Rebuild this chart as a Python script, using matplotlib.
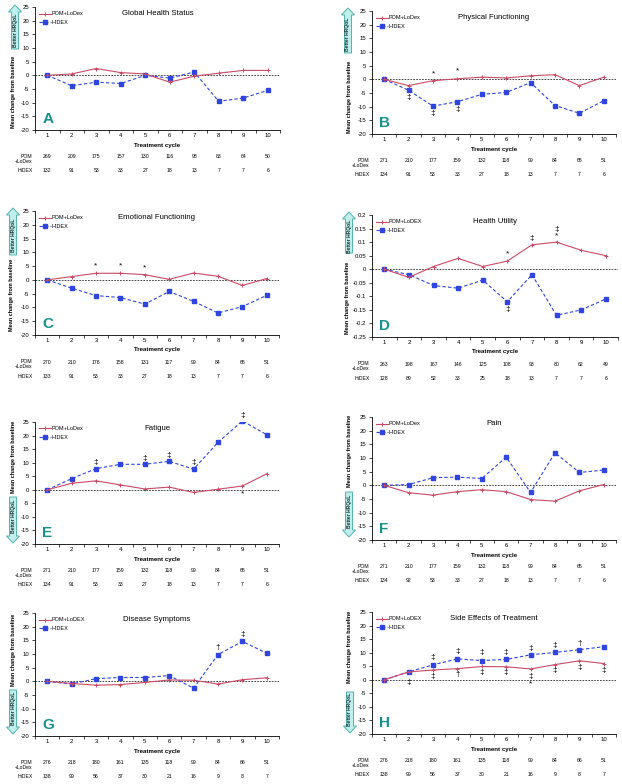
import matplotlib
matplotlib.use("Agg")
import matplotlib.pyplot as plt
import matplotlib.ticker as mticker
from matplotlib.patches import FancyArrow

plt.rcParams["font.family"] = ["Liberation Sans", "DejaVu Sans"]

W, H = 622, 784
PX = 0.72  # points per pixel at 100 dpi

cycles = [1, 2, 3, 4, 5, 6, 7, 8, 9, 10]

# A - Global Health Status
ghs_pom = [0, 0.5, 2.5, 1.0, 0.5, -2.5, -0.3, 0.8, 1.8, 1.8]
ghs_hidex = [0, -3.8, -2.5, -3.0, 0.0, -1.0, 1.2, -9.5, -8.3, -5.5]
ghs_n_pom = [269, 209, 175, 157, 130, 116, 98, 83, 64, 50]
ghs_n_hidex = [132, 91, 53, 33, 27, 18, 13, 7, 7, 6]
ghs_marks = []

# B - Physical Functioning
pf_pom = [0, -2.3, -0.5, 0.2, 0.8, 0.5, 1.3, 1.7, -2.3, 0.8]
pf_hidex = [0, -4.0, -9.8, -8.2, -5.5, -4.8, -1.2, -9.6, -12.4, -7.8]
pf_n_pom = [271, 210, 177, 159, 132, 118, 99, 84, 65, 51]
pf_n_hidex = [134, 91, 53, 33, 27, 18, 13, 7, 7, 6]
pf_marks = [(3, 2.0, "*"), (4, 3.0, "*"), (2, -6.5, "\u2021"),
            (3, -12.5, "\u2021"), (4, -11.0, "\u2021")]

# C - Emotional Functioning
ef_pom = [0, 1.2, 2.4, 2.4, 1.9, 0.2, 2.5, 1.3, -2.0, 0.5]
ef_hidex = [0, -3.0, -5.7, -6.4, -8.8, -4.2, -7.8, -12.0, -9.7, -5.6]
ef_n_pom = [270, 210, 176, 158, 131, 117, 99, 84, 65, 51]
ef_n_hidex = [133, 91, 53, 33, 27, 18, 13, 7, 7, 6]
ef_marks = [(3, 5.0, "*"), (4, 5.0, "*"), (5, 4.5, "*")]

# D - Health Utility
hu_pom = [0, -0.03, 0.01, 0.04, 0.01, 0.03, 0.09, 0.10, 0.07, 0.05]
hu_hidex = [0, -0.02, -0.06, -0.07, -0.04, -0.12, -0.02, -0.17, -0.15, -0.11]
hu_n_pom = [263, 198, 167, 146, 125, 108, 93, 80, 62, 49]
hu_n_hidex = [128, 89, 52, 33, 25, 18, 13, 7, 7, 6]
hu_marks = [(6, 0.055, "*"), (7, 0.115, "\u2021"), (8, 0.145, "\u2021"),
            (8, 0.122, "*"), (6, -0.148, "\u2021")]

# E - Fatigue
fa_pom = [0, 2.4, 3.3, 1.8, 0.3, 1.0, -1.0, 0.2, 1.4, 5.9]
fa_hidex = [0, 4.1, 7.8, 9.4, 9.4, 10.5, 7.6, 17.5, 25.4, 20.3]
fa_n_pom = [271, 210, 177, 159, 132, 118, 99, 84, 65, 51]
fa_n_hidex = [134, 91, 53, 33, 27, 18, 13, 7, 7, 6]
fa_marks = [(3, 10.0, "\u2021"), (5, 11.5, "\u2021"), (6, 12.5, "\u2021"),
            (7, 10.0, "\u2021"), (9, 27.5, "\u2021"), (9, -1.5, "*")]

# F - Pain
pa_pom = [0, -2.7, -3.6, -2.3, -1.6, -2.3, -5.2, -5.8, -2.0, 0.3]
pa_hidex = [0, 0.3, 2.8, 3.0, 2.5, 10.3, -2.6, 11.9, 4.7, 5.6]
pa_n_pom = [271, 210, 177, 159, 132, 118, 99, 84, 65, 51]
pa_n_hidex = [134, 92, 53, 33, 27, 18, 13, 7, 7, 6]
pa_marks = []

# G - Disease Symptoms
ds_pom = [0, -0.8, -1.4, -1.2, -0.4, 0.5, 0.4, -1.0, 0.6, 1.3]
ds_hidex = [0, -1.0, 1.0, 1.4, 1.4, 2.1, -2.5, 9.8, 14.6, 10.3]
ds_n_pom = [276, 218, 180, 161, 135, 118, 99, 84, 66, 51]
ds_n_hidex = [138, 99, 56, 37, 30, 21, 16, 9, 8, 7]
ds_marks = [(8, 12.5, "\u2020"), (9, 17.0, "\u2021")]

# H - Side Effects of Treatment
se_pom = [0, 2.9, 3.6, 4.1, 4.9, 4.8, 4.0, 5.6, 7.0, 6.0]
se_hidex = [0, 2.9, 5.5, 7.7, 7.1, 7.5, 9.2, 10.1, 11.1, 12.2]
se_n_pom = [276, 218, 180, 161, 135, 118, 99, 84, 66, 51]
se_n_hidex = [138, 99, 56, 37, 30, 21, 16, 9, 8, 7]
se_marks = [(3, 8.1, "\u2021"), (4, 10.3, "\u2021"), (5, 9.9, "\u2021"),
            (6, 9.9, "\u2021"), (7, 11.4, "\u2021"), (8, 12.6, "\u2021"),
            (9, 13.5, "\u2020"),
            (2, -1.1, "\u2021"), (3, 1.1, "\u2021"), (4, 1.8, "\u2020"),
            (5, 2.6, "\u2021"), (6, 2.6, "\u2021"), (7, 1.1, "\u2021"),
            (8, 3.3, "\u2021"), (9, 4.4, "\u2021"), (10, 3.3, "\u2021"),
            (7, -1.6, "*")]

POM_COLOR = "#c94a66"
HIDEX_COLOR = "#2f45dd"
TEAL = "#17918c"

# (title, letter, pom, hidex, n_pom, n_hidex, marks, pom label, ylim, ystep,
#  axes box px (l, t, r, b), arrow (x, tail, tip), ylabel centre (x, y))
panels = [
    ("Global Health Status", "A", ghs_pom, ghs_hidex, ghs_n_pom, ghs_n_hidex,
     ghs_marks, "POM+LoDex", (-20, 25), 5,
     (35, 7, 280, 130), (15, 49, 5), (14, 92)),
    ("Physical Functioning", "B", pf_pom, pf_hidex, pf_n_pom, pf_n_hidex,
     pf_marks, "POM+LoDex", (-20, 25), 5,
     (372, 11, 616, 134), (348, 53, 8), (349, 97)),
    ("Emotional Functioning", "C", ef_pom, ef_hidex, ef_n_pom, ef_n_hidex,
     ef_marks, "POM+LoDex", (-20, 25), 5,
     (35, 211, 279, 335), (13, 255, 208), (12, 295)),
    ("Health Utility", "D", hu_pom, hu_hidex, hu_n_pom, hu_n_hidex,
     hu_marks, "POM+LoDEX", (-0.25, 0.2), 0.05,
     (372, 215, 618, 337), (349, 253, 212), (348, 298)),
    ("Fatigue", "E", fa_pom, fa_hidex, fa_n_pom, fa_n_hidex,
     fa_marks, "POM+LoDex", (-20, 25), 5,
     (35, 422, 279, 544), (13, 497, 543), (14, 457)),
    ("Pain", "F", pa_pom, pa_hidex, pa_n_pom, pa_n_hidex,
     pa_marks, "POM+LoDex", (-20, 25), 5,
     (372, 417, 616, 540), (349, 492, 537), (349, 451)),
    ("Disease Symptoms", "G", ds_pom, ds_hidex, ds_n_pom, ds_n_hidex,
     ds_marks, "POM+LoDEX", (-20, 25), 5,
     (35, 613, 279, 736), (13, 690, 734), (14, 650)),
    ("Side Effects of Treatment", "H", se_pom, se_hidex, se_n_pom, se_n_hidex,
     se_marks, "POM+LoDEX", (-20, 25), 5,
     (372, 612, 616, 734), (350, 692, 733), (349, 647)),
]


def px_axes(fig, box):
    left, top, right, bottom = box
    return fig.add_axes([left / W, 1 - bottom / H, (right - left) / W,
                         (bottom - top) / H])


def below(ax, x, text, dy, xycoords=("data", "axes fraction"), **kw):
    ax.annotate(text, xy=(x, 0), xycoords=xycoords, xytext=(0, -dy * PX),
                textcoords="offset points", **kw)


fig = plt.figure(figsize=(W / 100, H / 100), dpi=100)

overlay = fig.add_axes([0, 0, 1, 1], zorder=-1)
overlay.set_xlim(0, W)
overlay.set_ylim(H, 0)
overlay.axis("off")

fmt = mticker.FuncFormatter(lambda v, p: "%g" % (round(v, 3) + 0.0))

for (title, letter, pom, hidex, n_pom, n_hidex, marks, pom_label, ylim,
     ystep, box, arrow, ylab) in panels:
    ax = px_axes(fig, box)
    ax.axhline(0, color="#222222", lw=0.6, ls=(0, (2, 1.5)), zorder=1)
    ax.plot(cycles, pom, color=POM_COLOR, lw=0.8, marker="+", ms=3,
            mew=0.7, label=pom_label, zorder=3)
    ax.plot(cycles, hidex, color=HIDEX_COLOR, lw=0.8, ls=(0, (3, 2)),
            marker="s", ms=2.6, label="HiDEX", zorder=2)
    for x, y, sym in marks:
        ax.text(x, y, sym, ha="center", va="center", fontsize=6)

    ax.set_xlim(0.5, 10.5)
    ax.set_ylim(*ylim)
    n_ticks = int(round((ylim[1] - ylim[0]) / ystep)) + 1
    ax.set_yticks([ylim[0] + i * ystep for i in range(n_ticks)])
    ax.yaxis.set_major_formatter(fmt)
    ax.set_xticks(cycles)
    ax.set_xticks([c - 0.5 for c in cycles] + [10.5], minor=True)
    ax.tick_params(axis="x", which="major", length=0, pad=2, labelsize=4.3)
    ax.tick_params(axis="x", which="minor", length=2.5, width=0.5)
    ax.tick_params(axis="y", length=2.5, width=0.5, pad=1.5, labelsize=4.3)
    for side in ("top", "right"):
        ax.spines[side].set_visible(False)
    for side in ("left", "bottom"):
        ax.spines[side].set_linewidth(0.6)
    ax.patch.set_alpha(0)

    ax.text(0.5, 0.945, title, transform=ax.transAxes, ha="center",
            va="center", fontsize=5.6)
    ax.text(0.03, 0.035, letter, transform=ax.transAxes, ha="left",
            va="bottom", fontsize=11, fontweight="bold", color=TEAL)
    ax.legend(loc="upper left", bbox_to_anchor=(0.0, 1.0), frameon=False,
              fontsize=4.0, handlelength=2.0, handletextpad=0.2,
              labelspacing=0.7, borderaxespad=0.4)

    below(ax, 0.5, "Treatment cycle", 15, xycoords="axes fraction",
          ha="center", va="center", fontsize=4.4, fontweight="bold")
    for x, n in zip(cycles, n_pom):
        below(ax, x, str(n), 27, ha="center", va="center", fontsize=3.7)
    for x, n in zip(cycles, n_hidex):
        below(ax, x, str(n), 41, ha="center", va="center", fontsize=3.7)
    ax.annotate("POM\n+LoDex", xy=(-0.01, 0), xycoords="axes fraction",
                xytext=(0, -24 * PX), textcoords="offset points",
                ha="right", va="top", fontsize=3.7, linespacing=1.1)
    ax.annotate("HiDEX", xy=(-0.01, 0), xycoords="axes fraction",
                xytext=(0, -41 * PX), textcoords="offset points",
                ha="right", va="center", fontsize=3.7)

    ax_x, tail, tip = arrow
    head = 7 if tip < tail else -7
    overlay.add_patch(FancyArrow(ax_x, tail, 0, tip - tail, width=7,
                                 head_width=13, head_length=7,
                                 length_includes_head=True, fc="#bfeeec",
                                 ec="#52b3af", lw=0.7))
    mid = (tail + tip + head) / 2
    overlay.text(ax_x, mid, "Better HRQoL", rotation=90, ha="center",
                 va="center", fontsize=3.6, fontweight="bold",
                 color="#1b3535")
    overlay.text(ylab[0], ylab[1], "Mean change from baseline", rotation=90,
                 ha="center", va="center", fontsize=4.0, fontweight="bold")

fig.savefig("out.png", dpi=100)
